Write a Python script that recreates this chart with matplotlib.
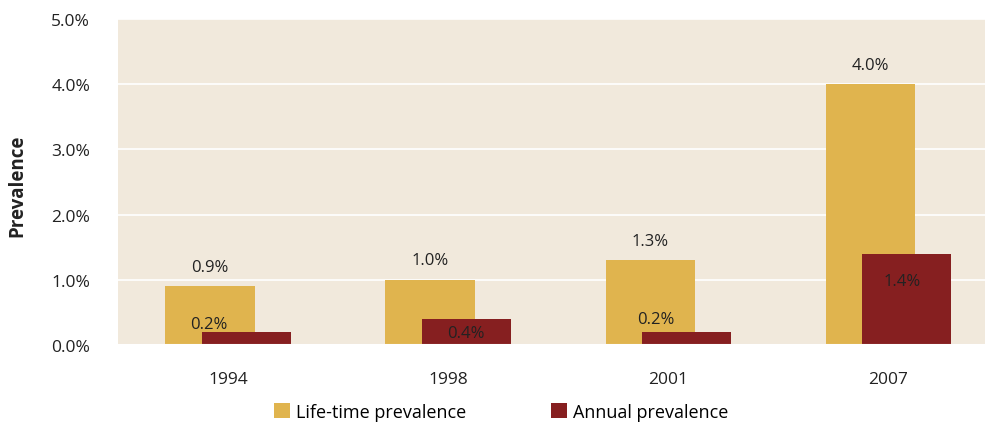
import matplotlib

matplotlib.use("Agg")
import matplotlib.pyplot as plt
import numpy as np
from matplotlib.ticker import FuncFormatter

YEARS = ["1994", "1998", "2001", "2007"]
LIFETIME = [0.9, 1.0, 1.3, 4.0]
ANNUAL = [0.2, 0.4, 0.2, 1.4]
LIFETIME_LABELS = ["0.9%", "1.0%", "1.3%", "4.0%"]
ANNUAL_LABELS = ["0.2%", "0.4%", "0.2%", "1.4%"]
Y_TICKS = [0.0, 1.0, 2.0, 3.0, 4.0, 5.0]

YELLOW = "#E0B44E"
RED = "#861F20"
PANEL = "#F1E9DC"

BAR_W = 0.405
SHIFT = 0.082
# per-label nudges for the annual labels (x in data units, y in points)
ANNUAL_DX = [-0.17, 0.0, -0.14, -0.02]
ANNUAL_DY = [6, -10, 9, -20]

plt.rcParams["font.family"] = ["Open Sans", "DejaVu Sans"]

fig = plt.figure(figsize=(9.85, 4.27), dpi=100, facecolor="white")
ax = fig.add_axes([118 / 985, 81 / 427, 867 / 985, 326 / 427])
ax.set_facecolor(PANEL)

x = np.arange(len(YEARS))
ax.bar(x - SHIFT, LIFETIME, BAR_W, color=YELLOW, zorder=2, label="Life-time prevalence")
ax.bar(x + SHIFT, ANNUAL, BAR_W, color=RED, zorder=3, label="Annual prevalence")

for i, v in enumerate(LIFETIME):
    ax.annotate(LIFETIME_LABELS[i], (x[i] - SHIFT, v), xytext=(0, 14), textcoords="offset points",
                ha="center", va="center", fontsize=12, color="#222222", zorder=5)
for i, v in enumerate(ANNUAL):
    ax.annotate(ANNUAL_LABELS[i], (x[i] + SHIFT + ANNUAL_DX[i], v), xytext=(0, ANNUAL_DY[i]),
                textcoords="offset points", ha="center", va="center", fontsize=12,
                color="#222222", zorder=5)

ax.set_xlim(-0.5, 3.44)
ax.set_ylim(0, 5.0)
ax.set_yticks(Y_TICKS)
ax.yaxis.set_major_formatter(FuncFormatter(lambda v, _: f"{v:.1f}%"))
ax.set_xticks(x)
ax.set_xticklabels(YEARS)
ax.tick_params(axis="both", length=0, labelsize=12.5, colors="#222222")
ax.tick_params(axis="y", pad=20)
ax.tick_params(axis="x", pad=19)
ax.grid(axis="y", color="white", linewidth=1.2, zorder=1)
ax.set_axisbelow(True)
ax.axhline(0, color="white", linewidth=1.5, zorder=4)
for spine in ax.spines.values():
    spine.set_visible(False)

fig.text(17 / 985, 1 - 186 / 427, "Prevalence", rotation=90, ha="center", va="center",
         fontsize=13.5, fontweight="bold", color="#222222")

fig.legend(loc="center", bbox_to_anchor=(501 / 985, 1 - 413 / 427), ncol=2, frameon=False,
           fontsize=13, handlelength=0.9, handleheight=0.9, handletextpad=0.3,
           columnspacing=4.7)

fig.savefig("out.png", dpi=100, facecolor="white")
